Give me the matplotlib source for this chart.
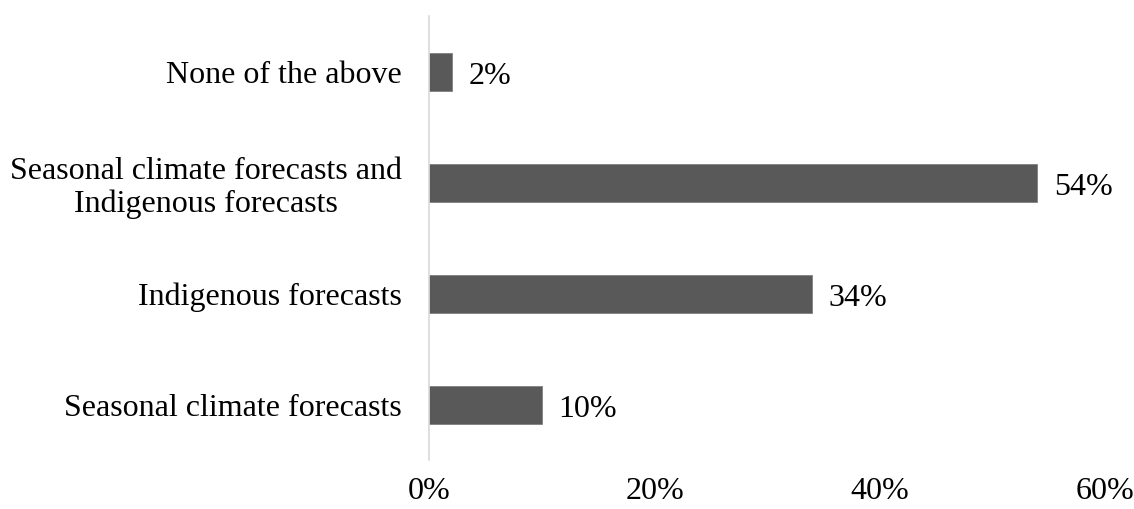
import matplotlib
matplotlib.use("Agg")
import matplotlib.pyplot as plt
from matplotlib.ticker import FuncFormatter

categories = [
    "Seasonal climate forecasts",
    "Indigenous forecasts",
    "Seasonal climate forecasts and\nIndigenous forecasts",
    "None of the above",
]
shares = [10, 34, 54, 2]
x_ticks = [0, 20, 40, 60]

plt.rcParams.update({
    "font.family": "Liberation Serif",
    "font.size": 23,
})

fig = plt.figure(figsize=(11.34, 5.09), dpi=100)
ax = fig.add_axes([0.3787, 0.0953, 0.5957, 0.8723])

pos = list(range(len(categories)))
ax.barh(pos, shares, height=0.345, color="#595959", edgecolor="#7f7f7f", linewidth=0.6)

for y, v in zip(pos, shares):
    ax.annotate(f"{v}%", (v, y), xytext=(12, -3), textcoords="offset points",
                va="center", ha="left", fontsize=23)

ax.set_xlim(0, 60)
ax.set_ylim(-0.5, 3.5)
ax.set_xticks(x_ticks)
ax.xaxis.set_major_formatter(FuncFormatter(lambda v, p: f"{v:.0f}%"))
ax.set_yticks(pos)
ax.set_yticklabels(categories, multialignment="center", linespacing=1.15)

ax.tick_params(axis="y", length=0, pad=20)
ax.tick_params(axis="x", length=0, pad=12)

for s in ["top", "right", "bottom"]:
    ax.spines[s].set_visible(False)
ax.spines["left"].set_color("#d9d9d9")
ax.spines["left"].set_linewidth(1.2)

fig.savefig("out.png", dpi=100)
